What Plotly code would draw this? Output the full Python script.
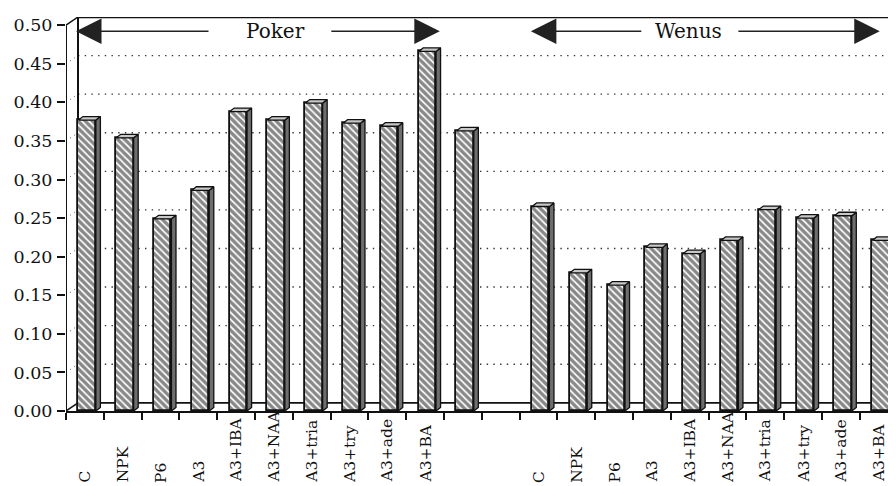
import plotly.graph_objects as go

# ---------------- data ----------------
categories = ["C", "NPK", "P6", "A3", "A3+IBA", "A3+NAA", "A3+tria", "A3+try", "A3+ade", "A3+BA"]
poker_values = [0.377, 0.354, 0.249, 0.286, 0.388, 0.377, 0.399, 0.373, 0.369, 0.466]
extra_values = [0.363]          # unlabeled bar following the Poker group
wenus_values = [0.265, 0.179, 0.163, 0.212, 0.204, 0.221, 0.261, 0.250, 0.253, 0.221]
group_names = ["Poker", "Wenus"]
y_ticks = [0.00, 0.05, 0.10, 0.15, 0.20, 0.25, 0.30, 0.35, 0.40, 0.45, 0.50]

# category slots: Poker 0-9, extra 10, empty 11, Wenus 12-21
poker_x = list(range(0, 10))
extra_x = [10]
wenus_x = list(range(12, 22))
n_slots = 22

# ---------------- geometry / style ----------------
FONT = "DejaVu Serif"
X_MIN, X_MAX = -0.5, 21.46
Y_MAX = 0.5106
WALL_DX, WALL_DY = 0.3175, 0.0106      # 3D depth of the chart box
BAR_OFF, BAR_W = 0.06, 0.46            # front face placement within slot
SIDE_DX, SIDE_DY = 0.12, 0.0046        # 3D depth of the bars

all_x = poker_x + extra_x + wenus_x
all_v = poker_values + extra_values + wenus_values

fig = go.Figure()

# front faces of the bars
fig.add_trace(go.Bar(
    x=[x + BAR_OFF for x in all_x], y=all_v, width=BAR_W,
    marker=dict(color="#111111",
                pattern=dict(shape="\\", fgcolor="#111111", bgcolor="white",
                             size=5, solidity=0.66),
                line=dict(color="#111111", width=1.8)),
    hoverinfo="skip", showlegend=False,
))

# side faces and top faces
side_x, side_y, top_x, top_y = [], [], [], []
for x, v in zip(all_x, all_v):
    x0 = x + BAR_OFF - BAR_W / 2
    x1 = x + BAR_OFF + BAR_W / 2
    side_x += [x1, x1 + SIDE_DX, x1 + SIDE_DX, x1, x1, None]
    side_y += [0, SIDE_DY, v + SIDE_DY, v, 0, None]
    top_x += [x0, x0 + SIDE_DX, x1 + SIDE_DX, x1, x0, None]
    top_y += [v, v + SIDE_DY, v + SIDE_DY, v, v, None]

fig.add_trace(go.Scatter(
    x=side_x, y=side_y, mode="lines", fill="toself",
    fillcolor="#6e6e6e", line=dict(color="#111111", width=1.3),
    hoverinfo="skip", showlegend=False,
))
fig.add_trace(go.Scatter(
    x=top_x, y=top_y, mode="lines", fill="toself",
    fillcolor="#c8c8c8", line=dict(color="#111111", width=1.3),
    hoverinfo="skip", showlegend=False,
))

shapes = []
# back-wall dotted gridlines and side-wall dotted diagonals
for v in y_ticks[1:-1]:
    shapes.append(dict(type="line", layer="below", xref="x", yref="y",
                       x0=X_MIN + WALL_DX, x1=X_MAX, y0=v + WALL_DY, y1=v + WALL_DY,
                       line=dict(color="#333333", width=1.4, dash="1.4px,5.3px")))
    shapes.append(dict(type="line", layer="below", xref="x", yref="y",
                       x0=X_MIN, x1=X_MIN + WALL_DX, y0=v, y1=v + WALL_DY,
                       line=dict(color="#555555", width=1, dash="1px,4px")))

frame = [
    # front vertical axis
    (X_MIN, 0, X_MIN, y_ticks[-1], 2),
    # top-left diagonal
    (X_MIN, y_ticks[-1], X_MIN + WALL_DX, y_ticks[-1] + WALL_DY, 1.5),
    # back wall left edge
    (X_MIN + WALL_DX, WALL_DY, X_MIN + WALL_DX, y_ticks[-1] + WALL_DY, 2),
    # back wall top edge
    (X_MIN + WALL_DX, y_ticks[-1] + WALL_DY, X_MAX, y_ticks[-1] + WALL_DY, 2.4),
    # floor back edge
    (X_MIN + WALL_DX, WALL_DY, X_MAX, WALL_DY, 1.8),
    # floor left diagonal
    (X_MIN, 0, X_MIN + WALL_DX, WALL_DY, 1.5),
]
for xa, ya, xb, yb, w in frame:
    shapes.append(dict(type="line", layer="below", xref="x", yref="y",
                       x0=xa, y0=ya, x1=xb, y1=yb,
                       line=dict(color="#111111", width=w)))

# figure sits 8px in from the page corner (default body margin)
FIG_W, FIG_H = 888, 478
M_L, M_R, M_T, M_B = 58, 0, 9, 75
PLOT_H = FIG_H - M_T - M_B

annotations = []
# rotated category labels, bottom-aligned (anchor uses the rotated box)
label_y = -73.5 / PLOT_H
for xs in (poker_x, wenus_x):
    for x, lab in zip(xs, categories):
        annotations.append(dict(x=x, y=label_y, xref="x", yref="paper",
                                text=lab, showarrow=False, textangle=-90,
                                xanchor="center", yanchor="bottom",
                                font=dict(family=FONT, size=15.5, color="#111111")))

# group titles with arrows
ARROW_Y = 0.492
group_spec = [
    (group_names[0], 5.03, [(-0.235, 3.31), (9.39, 6.48)]),
    (group_names[1], 15.96, [(11.80, 14.76), (21.03, 17.25)]),
]
for name, cx, arrows in group_spec:
    annotations.append(dict(x=cx, y=ARROW_Y, xref="x", yref="y", text=name,
                            showarrow=False, xanchor="center", yanchor="middle",
                            font=dict(family=FONT, size=20, color="#111111")))
    for tip, tail in arrows:
        annotations.append(dict(x=tip, y=ARROW_Y, ax=tail, ay=ARROW_Y,
                                xref="x", yref="y", axref="x", ayref="y",
                                text="", showarrow=True, arrowhead=2,
                                arrowsize=3.4, arrowwidth=1.5,
                                arrowcolor="#222222"))

fig.update_layout(
    width=FIG_W, height=FIG_H, autosize=False,
    margin=dict(l=M_L, r=M_R, t=M_T, b=M_B, pad=0),
    paper_bgcolor="white", plot_bgcolor="white",
    bargap=0, showlegend=False,
    shapes=shapes, annotations=annotations,
    xaxis=dict(range=[X_MIN, X_MAX], tickmode="array",
               tickvals=[X_MIN + k for k in range(n_slots + 1)],
               ticktext=["" for _ in range(n_slots + 1)],
               ticks="outside", ticklen=7, tickwidth=1.5, tickcolor="#111111",
               showline=True, linecolor="#111111", linewidth=1.8,
               showgrid=False, zeroline=False, automargin=False),
    yaxis=dict(range=[0, Y_MAX], tickmode="array", tickvals=y_ticks,
               tickformat=".2f", ticks="outside", ticklen=8, tickwidth=1.5,
               tickcolor="#111111", ticklabelstandoff=1,
               tickfont=dict(family=FONT, size=17.5, color="#111111"),
               showline=False, showgrid=False, zeroline=False, automargin=False),
)

fig.write_html("out.html")
